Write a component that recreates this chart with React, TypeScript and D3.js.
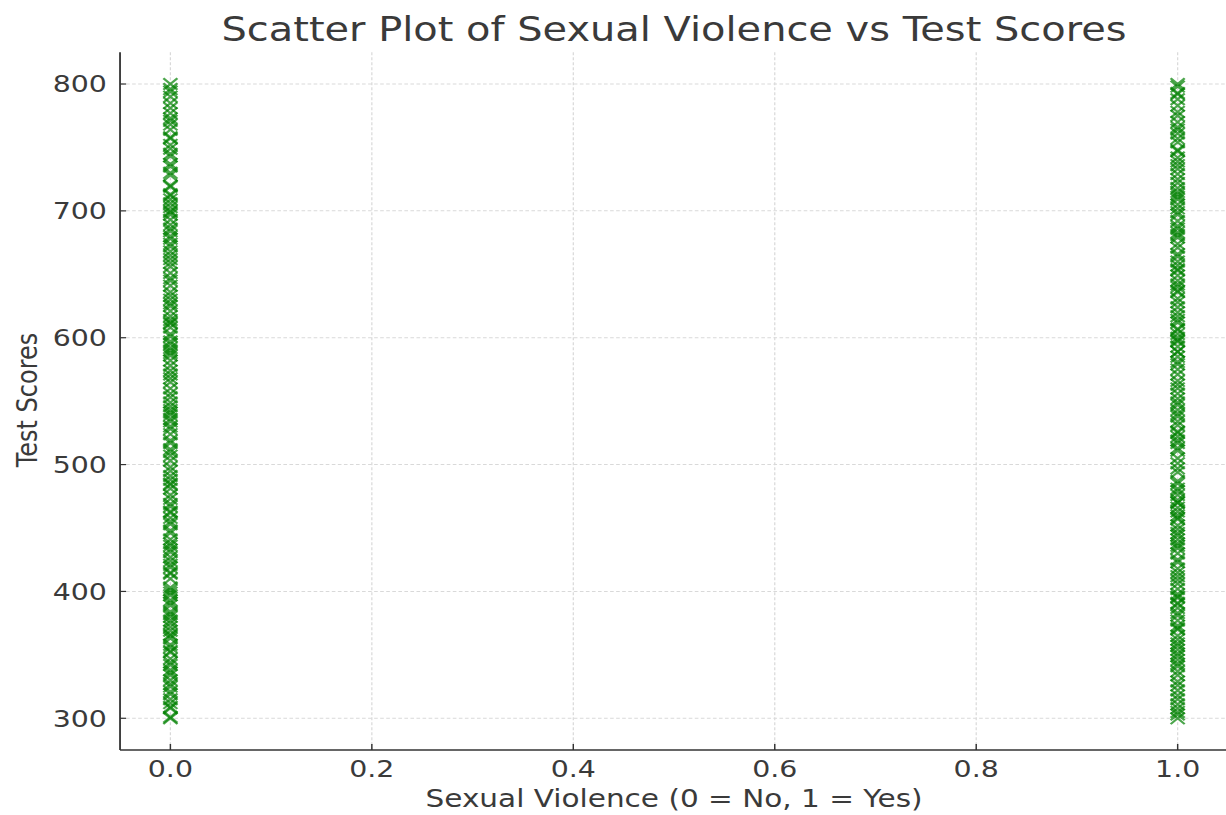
import React from "react";
import * as d3 from "d3";

const scoresNo: number[] = [
  312, 745, 528, 401, 689, 356, 790, 467, 603, 334, 578, 712, 419, 651, 382, 536, 773, 308, 495, 627,
  441, 699, 365, 560, 728, 453, 614, 389, 800, 507, 342, 668, 574, 431, 757, 319, 488, 636, 399, 541,
  703, 372, 597, 462, 781, 327, 519, 684, 446, 612, 358, 735, 503, 588, 410, 662, 301, 549, 719, 377,
  625, 476, 796, 338, 565, 693, 424, 517, 641, 393, 764, 458, 582, 309, 674, 530, 436, 709, 363, 601,
  485, 752, 347, 556, 686, 414, 633, 498, 777, 325, 592, 469, 720, 384, 647, 543, 403, 737, 352, 611,
  473, 680, 315, 534, 768, 427, 595, 366, 656, 512, 743, 391, 621, 448, 785, 330, 571, 697, 438, 524,
  659, 375, 608, 481, 730, 344, 586, 415, 672, 553, 300, 794, 617, 463, 700, 397, 539, 758, 321, 645,
  491, 380, 713, 568, 433, 665, 510, 749, 353, 590, 455, 706, 336, 630, 421, 771, 546, 369, 678, 484,
];

const scoresYes: number[] = [
  798, 305, 642, 517, 371, 725, 458, 589, 337, 683, 412, 766, 549, 303, 620, 476, 702, 391, 534, 657,
  349, 788, 441, 598, 362, 711, 505, 636, 423, 754, 318, 571, 688, 466, 543, 395, 739, 612, 357, 481,
  800, 526, 664, 329, 607, 449, 715, 383, 560, 692, 434, 778, 311, 585, 497, 649, 370, 733, 522, 406,
  674, 343, 617, 460, 761, 538, 396, 699, 326, 579, 452, 722, 487, 640, 377, 793, 513, 603, 430, 679,
  354, 747, 566, 418, 631, 300, 705, 472, 593, 387, 770, 531, 660, 341, 614, 444, 736, 501, 575, 409,
  686, 322, 653, 479, 783, 556, 365, 718, 436, 624, 511, 748, 390, 597, 463, 671, 334, 540, 697, 425,
  775, 485, 606, 359, 729, 552, 402, 645, 315, 581, 470, 757, 519, 381, 666, 446, 709, 346, 628, 494,
  792, 563, 415, 681, 373, 600, 457, 742, 525, 308, 654, 438, 713, 589, 398, 764, 470, 637, 351, 547,
];

const groups: { x: number; values: number[] }[] = [
  { x: 0, values: scoresNo },
  { x: 1, values: scoresYes },
];

const xTicks: number[] = [0, 0.2, 0.4, 0.6, 0.8, 1.0];
const yTicks: number[] = [300, 400, 500, 600, 700, 800];

const title = "Scatter Plot of Sexual Violence vs Test Scores";
const xLabel = "Sexual Violence (0 = No, 1 = Yes)";
const yLabel = "Test Scores";

const W = 1226;
const H = 815;
const SX = 1.21;
const VW = W / SX;

export default function App() {
  const left = 99.2;
  const right = 1014.9;
  const top = 52.3;
  const bottom = 750;

  const x = d3.scaleLinear().domain([-0.05, 1.05]).range([left, right]);
  const y = d3.scaleLinear().domain([275, 825]).range([bottom, top]);

  const font = "'DejaVu Sans', sans-serif";
  const textColor = "#3a3a3a";
  const ms = 5.8;

  return (
    <svg
      width={W}
      height={H}
      viewBox={`0 0 ${VW} ${H}`}
      preserveAspectRatio="none"
      style={{ position: "absolute", left: 0, top: 0, background: "#fff" }}
    >
      <rect x={0} y={0} width={VW} height={H} fill="#fff" />
      {/* grid */}
      {xTicks.map((t) => (
        <line
          key={"gx" + t}
          x1={x(t)}
          x2={x(t)}
          y1={top}
          y2={bottom}
          stroke="#d9d9d9"
          strokeWidth={1}
          strokeDasharray="3,2"
        />
      ))}
      {yTicks.map((t) => (
        <line
          key={"gy" + t}
          x1={left}
          x2={right}
          y1={y(t)}
          y2={y(t)}
          stroke="#d9d9d9"
          strokeWidth={1}
          strokeDasharray="3,2"
        />
      ))}
      {/* points */}
      <g stroke="green" strokeWidth={2} strokeOpacity={0.7} fill="none">
        {groups.map((g) =>
          g.values.map((v, i) => {
            const cx = x(g.x);
            const cy = y(v);
            return (
              <path
                key={g.x + "-" + i}
                d={`M${cx - ms},${cy - ms}L${cx + ms},${cy + ms}M${cx - ms},${cy + ms}L${cx + ms},${cy - ms}`}
              />
            );
          })
        )}
      </g>
      {/* spines */}
      <line x1={left} x2={left} y1={top} y2={bottom} stroke="#333" strokeWidth={1.5} />
      <line x1={left} x2={right} y1={bottom} y2={bottom} stroke="#333" strokeWidth={1.5} />
      {/* ticks */}
      {xTicks.map((t) => (
        <g key={"xt" + t}>
          <line x1={x(t)} x2={x(t)} y1={bottom} y2={bottom - 6} stroke="#333" strokeWidth={1.2} />
          <text
            x={x(t)}
            y={777}
            textAnchor="middle"
            fontFamily={font}
            fontSize={23.5}
            fill={textColor}
          >
            {d3.format(".1f")(t)}
          </text>
        </g>
      ))}
      {yTicks.map((t) => (
        <g key={"yt" + t}>
          <line x1={left} x2={left + 5} y1={y(t)} y2={y(t)} stroke="#333" strokeWidth={1.2} />
          <text
            x={88.4}
            y={y(t)}
            dy="0.36em"
            textAnchor="end"
            fontFamily={font}
            fontSize={23.5}
            fill={textColor}
          >
            {t}
          </text>
        </g>
      ))}
      {/* labels */}
      <text
        x={(left + right) / 2}
        y={807}
        textAnchor="middle"
        fontFamily={font}
        fontSize={24.4}
        fill={textColor}
      >
        {xLabel}
      </text>
      <text
        transform={`translate(30.6, 400) rotate(-90)`}
        textAnchor="middle"
        fontFamily={font}
        fontSize={24}
        fill={textColor}
      >
        {yLabel}
      </text>
      <text
        x={(left + right) / 2}
        y={41}
        textAnchor="middle"
        fontFamily={font}
        fontSize={33}
        fill={textColor}
      >
        {title}
      </text>
    </svg>
  );
}
